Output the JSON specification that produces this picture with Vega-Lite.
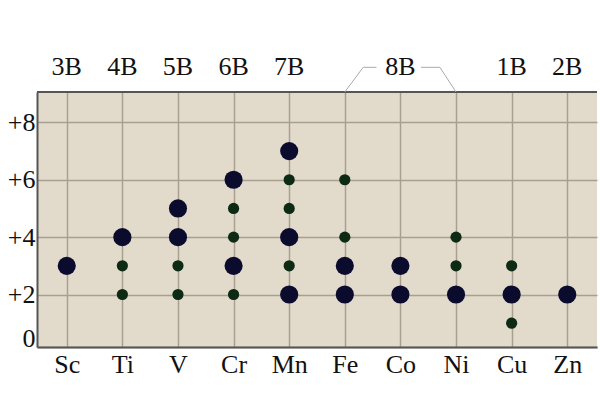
{
  "$schema": "https://vega.github.io/schema/vega-lite/v6.json",
  "autosize": {"type": "none"},
  "padding": {"left": 37, "top": 92, "right": 3, "bottom": 53},
  "width": 560,
  "height": 255,
  "background": "white",
  "config": {
    "view": {"stroke": null, "fill": "#e2dbcc"},
    "font": "Liberation Serif",
    "axis": {"labelFont": "Liberation Serif"},
    "text": {"font": "Liberation Serif"}
  },
  "datasets": {
    "states": [
      {"el": "Sc", "ox": 3, "kind": "common"},
      {"el": "Ti", "ox": 4, "kind": "common"},
      {"el": "Ti", "ox": 3, "kind": "other"},
      {"el": "Ti", "ox": 2, "kind": "other"},
      {"el": "V", "ox": 5, "kind": "common"},
      {"el": "V", "ox": 4, "kind": "common"},
      {"el": "V", "ox": 3, "kind": "other"},
      {"el": "V", "ox": 2, "kind": "other"},
      {"el": "Cr", "ox": 6, "kind": "common"},
      {"el": "Cr", "ox": 5, "kind": "other"},
      {"el": "Cr", "ox": 4, "kind": "other"},
      {"el": "Cr", "ox": 3, "kind": "common"},
      {"el": "Cr", "ox": 2, "kind": "other"},
      {"el": "Mn", "ox": 7, "kind": "common"},
      {"el": "Mn", "ox": 6, "kind": "other"},
      {"el": "Mn", "ox": 5, "kind": "other"},
      {"el": "Mn", "ox": 4, "kind": "common"},
      {"el": "Mn", "ox": 3, "kind": "other"},
      {"el": "Mn", "ox": 2, "kind": "common"},
      {"el": "Fe", "ox": 6, "kind": "other"},
      {"el": "Fe", "ox": 4, "kind": "other"},
      {"el": "Fe", "ox": 3, "kind": "common"},
      {"el": "Fe", "ox": 2, "kind": "common"},
      {"el": "Co", "ox": 3, "kind": "common"},
      {"el": "Co", "ox": 2, "kind": "common"},
      {"el": "Ni", "ox": 4, "kind": "other"},
      {"el": "Ni", "ox": 3, "kind": "other"},
      {"el": "Ni", "ox": 2, "kind": "common"},
      {"el": "Cu", "ox": 3, "kind": "other"},
      {"el": "Cu", "ox": 2, "kind": "common"},
      {"el": "Cu", "ox": 1, "kind": "other"},
      {"el": "Zn", "ox": 2, "kind": "common"}
    ],
    "groups": [
      {"el": "Sc", "group": "3B"},
      {"el": "Ti", "group": "4B"},
      {"el": "V", "group": "5B"},
      {"el": "Cr", "group": "6B"},
      {"el": "Mn", "group": "7B"},
      {"el": "Co", "group": "8B"},
      {"el": "Cu", "group": "1B"},
      {"el": "Zn", "group": "2B"}
    ],
    "bracket": [
      {"side": "L", "bx": 5, "by": 9.06},
      {"side": "L", "bx": 5.33, "by": 9.92},
      {"side": "L", "bx": 5.57, "by": 9.92},
      {"side": "R", "bx": 6.37, "by": 9.92},
      {"side": "R", "bx": 6.71, "by": 9.92},
      {"side": "R", "bx": 7, "by": 9.06}
    ]
  },
  "resolve": {"scale": {"x": "independent"}, "axis": {"x": "independent"}},
  "layer": [
    {
      "data": {"name": "states"},
      "mark": {"type": "circle", "opacity": 1},
      "encoding": {
        "x": {
          "field": "el", "type": "nominal",
          "scale": {"type": "point", "domain": ["Sc","Ti","V","Cr","Mn","Fe","Co","Ni","Cu","Zn"], "padding": 0.535},
          "axis": {
            "title": null, "labelAngle": 0, "labelFontSize": 26, "labelColor": "#111",
            "labelFont": "Liberation Serif",
            "labelPadding": 4, "ticks": false, "domainColor": "#555", "domainWidth": 2,
            "grid": true, "gridColor": "#a89f90", "gridWidth": 1.5
          }
        },
        "y": {
          "field": "ox", "type": "quantitative",
          "scale": {"domain": [0.17, 9.06], "nice": false, "zero": false},
          "axis": {
            "title": null, "values": [0.17, 2, 4, 6, 8],
            "labelExpr": "datum.value < 1 ? '0' : '+' + datum.value",
            "labelFont": "Liberation Serif",
            "labelFontSize": 26, "labelColor": "#111", "labelPadding": 2, "ticks": false,
            "labelOffset": {"condition": {"test": "datum.value < 1", "value": -9}, "value": 0},
            "domainColor": "#555", "domainWidth": 2,
            "grid": true, "gridColor": "#a89f90", "gridWidth": 1.5
          }
        },
        "size": {
          "field": "kind", "type": "nominal",
          "scale": {"domain": ["common", "other"], "range": [330, 125]},
          "legend": null
        },
        "color": {
          "field": "kind", "type": "nominal",
          "scale": {"domain": ["common", "other"], "range": ["#0b0b2e", "#0c2a14"]},
          "legend": null
        }
      }
    },
    {
      "data": {"values": [{"top": 9.06}]},
      "mark": {"type": "rule", "color": "#555", "strokeWidth": 2},
      "encoding": {"y": {"field": "top", "type": "quantitative"}}
    },
    {
      "data": {"name": "groups"},
      "mark": {"type": "text", "fontSize": 26, "font": "Liberation Serif", "color": "#111", "clip": false, "baseline": "middle"},
      "encoding": {
        "x": {
          "field": "el", "type": "nominal",
          "scale": {"type": "point", "domain": ["Sc","Ti","V","Cr","Mn","Fe","Co","Ni","Cu","Zn"], "padding": 0.535},
          "axis": null
        },
        "y": {"datum": 9.92},
        "text": {"field": "group"}
      }
    },
    {
      "data": {"name": "bracket"},
      "mark": {"type": "line", "color": "#aaaaaa", "strokeWidth": 1, "clip": false},
      "encoding": {
        "x": {
          "field": "bx", "type": "quantitative",
          "scale": {"domain": [-0.535, 9.535], "nice": false, "zero": false},
          "axis": null
        },
        "y": {"field": "by", "type": "quantitative"},
        "detail": {"field": "side"}
      }
    }
  ]
}
